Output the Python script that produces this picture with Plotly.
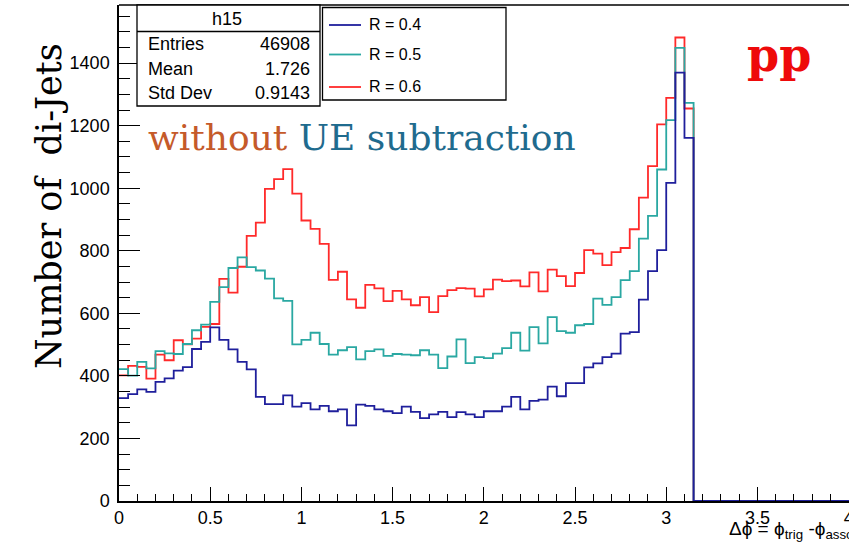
import numpy as np
import plotly.graph_objects as go

# Delta-phi distribution of di-jets (pp, no UE subtraction), bin width 0.05 rad
bin_width = 0.05
counts_r04 = [329, 342, 357, 349, 381, 392, 417, 428, 486, 509,
              555, 515, 485, 445, 421, 333, 310, 310, 338, 302,
              313, 293, 304, 287, 293, 242, 308, 304, 293, 287,
              281, 302, 285, 265, 277, 285, 268, 284, 277, 268,
              287, 287, 302, 333, 293, 320, 324, 366, 335, 377,
              377, 427, 440, 460, 471, 535, 540, 644, 735, 802,
              1017, 1370, 1161]
counts_r05 = [422, 401, 445, 424, 479, 472, 470, 502, 546, 564,
              637, 684, 745, 779, 748, 737, 711, 648, 640, 501,
              515, 538, 502, 468, 482, 492, 453, 479, 485, 464,
              470, 468, 466, 482, 468, 425, 462, 517, 441, 460,
              457, 471, 489, 538, 481, 556, 504, 588, 543, 538,
              562, 566, 647, 627, 652, 706, 735, 839, 912, 1060,
              1218, 1449, 1273]
counts_r06 = [402, 432, 429, 391, 468, 450, 514, 501, 519, 557,
              566, 710, 666, 749, 848, 890, 998, 1029, 1061, 983,
              897, 870, 822, 707, 733, 645, 618, 691, 680, 639,
              672, 645, 626, 652, 604, 655, 674, 681, 679, 654,
              677, 708, 703, 705, 686, 731, 670, 740, 719, 687,
              729, 802, 791, 754, 796, 809, 869, 970, 1071, 1204,
              1289, 1482, 1255]
series_labels = ["R = 0.4", "R = 0.5", "R = 0.6"]
series_colors = ["#1f1f9c", "#2aa8a2", "#ff2a2a"]

stats_title = "h15"
stats_rows = [("Entries", "46908"), ("Mean", "1.726"), ("Std Dev", "0.9143")]

x_max = 4.002
y_max = 1586

W, H = 849, 551
L, R, T, B = 119, 0, 5, 50


def px(x):
    return (x - L) / (W - L - R)


def py(y):
    return (H - B - y) / (H - T - B)


fig = go.Figure()

# histograms drawn as steps; red first, blue on top
for counts, color, name in reversed(list(zip(
        [counts_r04, counts_r05, counts_r06], series_colors, series_labels))):
    edges = np.arange(len(counts) + 1) * bin_width
    xs = list(edges) + [x_max]
    ys = list(counts) + [0, 0]
    fig.add_trace(go.Scatter(x=xs, y=ys, mode="lines", line_shape="hv",
                             line=dict(color=color, width=1.8), name=name,
                             showlegend=False, hoverinfo="skip"))

sans = "Liberation Sans, Arial, sans-serif"
serif = "DejaVu Serif, serif"

shapes = []
annotations = []

# top frame line
shapes.append(dict(type="line", xref="paper", yref="paper", x0=0, x1=1, y0=1, y1=1,
                   line=dict(color="black", width=1.5)))

# statistics box
shapes.append(dict(type="rect", xref="paper", yref="paper",
                   x0=px(137), x1=px(320), y0=py(106), y1=py(5),
                   line=dict(color="black", width=1.3), fillcolor="white", layer="above"))
shapes.append(dict(type="line", xref="paper", yref="paper",
                   x0=px(137), x1=px(320), y0=py(31.5), y1=py(31.5),
                   line=dict(color="black", width=1.3)))
annotations.append(dict(xref="paper", yref="paper", x=px(227), y=py(19),
                        text=stats_title, showarrow=False, xanchor="center",
                        yanchor="middle", font=dict(family=sans, size=18, color="black")))
for i, (k, v) in enumerate(stats_rows):
    yy = py(44 + i * 24.5)
    annotations.append(dict(xref="paper", yref="paper", x=px(146), y=yy, text=k,
                            showarrow=False, xanchor="left", yanchor="middle",
                            font=dict(family=sans, size=18, color="black")))
    annotations.append(dict(xref="paper", yref="paper", x=px(312), y=yy, text=v,
                            showarrow=False, xanchor="right", yanchor="middle",
                            font=dict(family=sans, size=18, color="black")))

# legend box
shapes.append(dict(type="rect", xref="paper", yref="paper",
                   x0=px(322.5), x1=px(506), y0=py(100), y1=py(7.5),
                   line=dict(color="black", width=1.3), fillcolor="white", layer="above"))
for i, (name, color) in enumerate(zip(series_labels, series_colors)):
    yy = [25, 54.5, 87][i]
    shapes.append(dict(type="line", xref="paper", yref="paper",
                       x0=px(329), x1=px(361), y0=py(yy), y1=py(yy),
                       line=dict(color=color, width=1.8), layer="above"))
    annotations.append(dict(xref="paper", yref="paper", x=px(367), y=py(yy), text=name,
                            showarrow=False, xanchor="left", yanchor="middle",
                            font=dict(family=sans, size=16, color="black")))

# slide labels
annotations.append(dict(xref="paper", yref="paper", x=px(779), y=py(55), text="<b>pp</b>",
                        showarrow=False, xanchor="center", yanchor="middle",
                        font=dict(family=serif, size=46, color="#ee0a0a")))
annotations.append(dict(xref="paper", yref="paper", x=px(146), y=py(137),
                        text='<span style="color:#c55a2a">without</span> UE subtraction',
                        showarrow=False, xanchor="left", yanchor="middle",
                        font=dict(family=serif, size=36, color="#1f6b8e")))
annotations.append(dict(xref="paper", yref="paper", x=px(49), y=py(206),
                        text="Number of&nbsp; di-Jets", textangle=-90,
                        showarrow=False, xanchor="center", yanchor="middle",
                        font=dict(family=serif, size=35, color="black")))
annotations.append(dict(xref="paper", yref="paper", x=px(727), y=py(530),
                        text="Δϕ = ϕ<sub>trig</sub> -ϕ<sub>assoc</sub>",
                        showarrow=False, xanchor="left", yanchor="middle",
                        font=dict(family=sans, size=19, color="black")))

fig.update_layout(
    width=W, height=H,
    margin=dict(l=L, r=R, t=T, b=B, autoexpand=False),
    paper_bgcolor="white", plot_bgcolor="white",
    shapes=shapes, annotations=annotations,
    showlegend=False,
    xaxis=dict(range=[0, x_max], tick0=0, dtick=0.5, ticks="inside", ticklen=14,
               tickwidth=1.2, tickcolor="black", showline=True, linecolor="black",
               linewidth=1.5, showgrid=False, zeroline=False, ticklabeloverflow="allow",
               automargin=False,
               tickfont=dict(family=sans, size=18, color="black"),
               minor=dict(dtick=0.1, ticks="inside", ticklen=7, tickwidth=1.2,
                          tickcolor="black", showgrid=False)),
    yaxis=dict(range=[0, y_max], tick0=0, dtick=200, ticks="inside", ticklen=21,
               tickwidth=1.2, tickcolor="black", showline=True, linecolor="black",
               linewidth=1.5, showgrid=False, zeroline=False, ticklabelstandoff=4,
               automargin=False,
               tickfont=dict(family=sans, size=18, color="black"),
               minor=dict(dtick=50, ticks="inside", ticklen=11, tickwidth=1.2,
                          tickcolor="black", showgrid=False)),
)

fig.write_html("out.html")
